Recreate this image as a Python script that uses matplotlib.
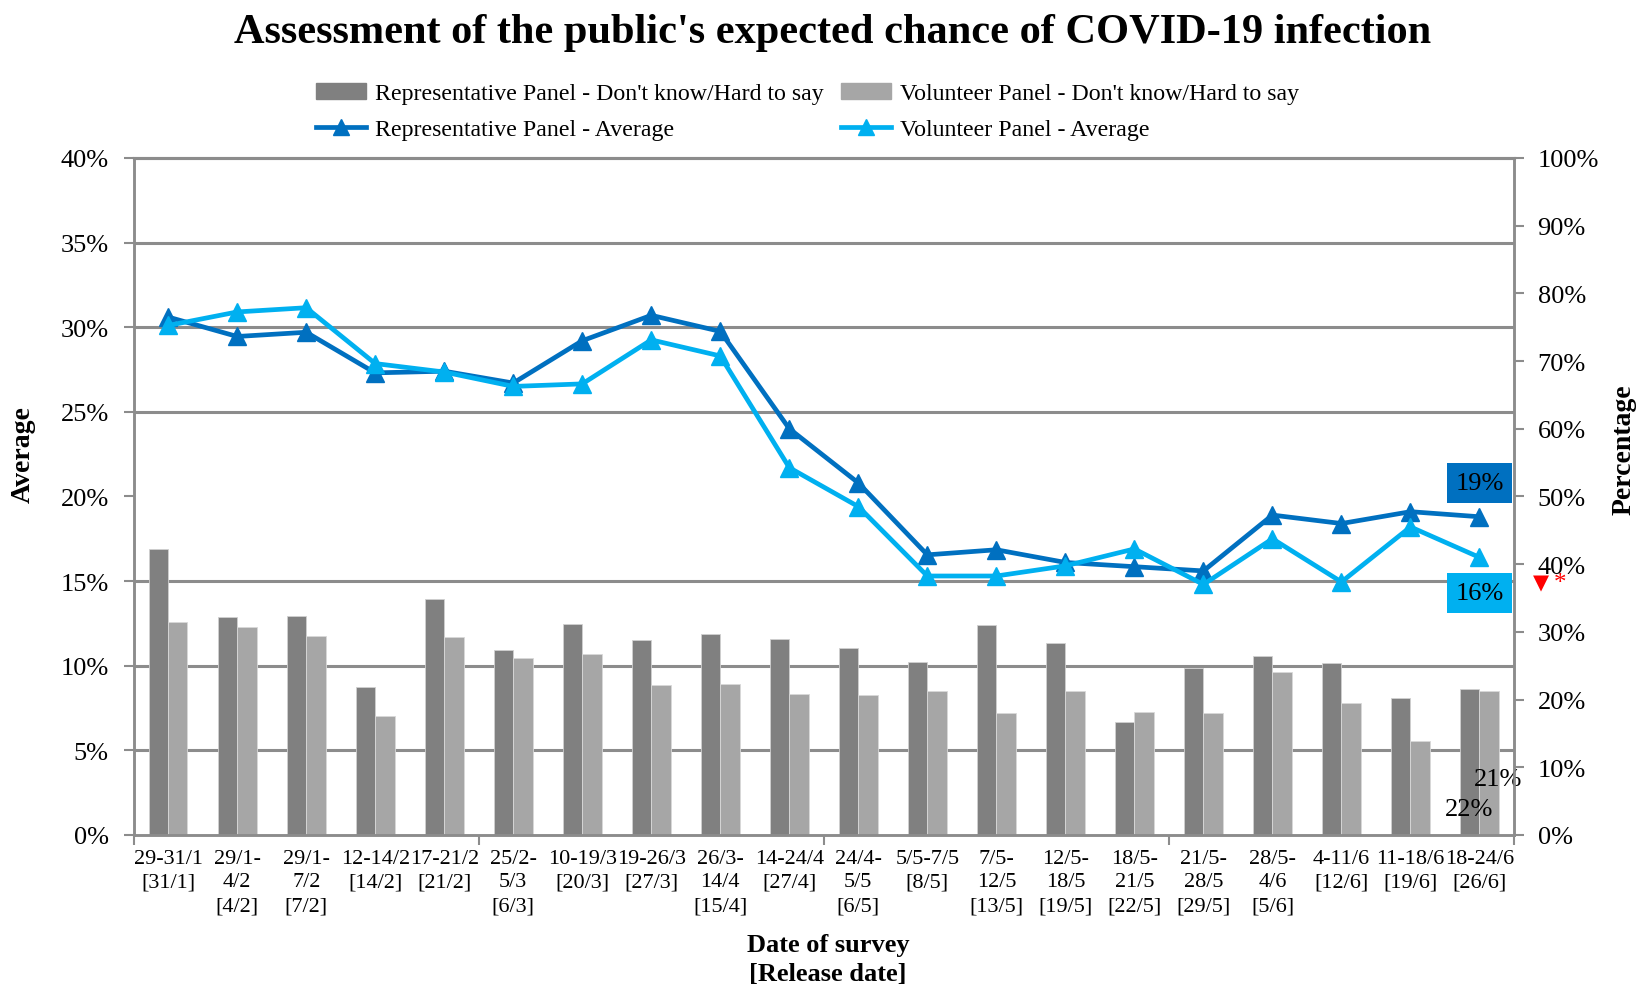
import matplotlib
matplotlib.use("Agg")
import matplotlib.pyplot as plt
import numpy as np
from matplotlib.lines import Line2D
from matplotlib.patches import Patch

plt.rcParams['font.family'] = ['Liberation Serif', 'DejaVu Serif']

categories = ["29-31/1\n[31/1]", "29/1-\n4/2\n[4/2]", "29/1-\n7/2\n[7/2]", "12-14/2\n[14/2]",
              "17-21/2\n[21/2]", "25/2-\n5/3\n[6/3]", "10-19/3\n[20/3]", "19-26/3\n[27/3]",
              "26/3-\n14/4\n[15/4]", "14-24/4\n[27/4]", "24/4-\n5/5\n[6/5]", "5/5-7/5\n[8/5]",
              "7/5-\n12/5\n[13/5]", "12/5-\n18/5\n[19/5]", "18/5-\n21/5\n[22/5]", "21/5-\n28/5\n[29/5]",
              "28/5-\n4/6\n[5/6]", "4-11/6\n[12/6]", "11-18/6\n[19/6]", "18-24/6\n[26/6]"]

rep_avg = [30.6, 29.45, 29.7, 27.3, 27.4, 26.7, 29.2, 30.7, 29.75, 24.0,
           20.8, 16.55, 16.85, 16.1, 15.85, 15.6, 18.9, 18.4, 19.1, 18.8]
vol_avg = [30.1, 30.9, 31.15, 27.85, 27.35, 26.5, 26.65, 29.25, 28.3, 21.7,
           19.4, 15.3, 15.3, 15.9, 16.9, 14.8, 17.5, 14.95, 18.2, 16.4]

rep_dk = [42.3, 32.2, 32.3, 21.9, 34.8, 27.3, 31.2, 28.8, 29.7, 29.0,
          27.6, 25.6, 31.0, 28.4, 16.7, 24.6, 26.5, 25.4, 20.2, 21.6]
vol_dk = [31.5, 30.7, 29.4, 17.6, 29.2, 26.1, 26.7, 22.1, 22.3, 20.75,
          20.65, 21.3, 18.0, 21.3, 18.2, 18.0, 24.1, 19.5, 13.9, 21.3]

left_ticks = [0, 5, 10, 15, 20, 25, 30, 35, 40]
right_ticks = [0, 10, 20, 30, 40, 50, 60, 70, 80, 90, 100]

C_REP = '#0070C0'
C_VOL = '#00B0F0'
C_DK1 = '#808080'
C_DK2 = '#A6A6A6'
C_GRID = '#8C8C8C'

fig = plt.figure(figsize=(16.38, 9.87), dpi=100)
ax2 = fig.add_axes([0.0816, 0.153, 0.8427, 0.686])
ax = ax2.twinx()
ax.set_zorder(ax2.get_zorder() + 1)
ax.patch.set_visible(False)

x = np.arange(len(categories))
bw = 0.28
ax2.bar(x - bw / 2, rep_dk, width=bw, color=C_DK1, edgecolor='#D0D0D0', linewidth=0.6, zorder=2)
ax2.bar(x + bw / 2, vol_dk, width=bw, color=C_DK2, edgecolor='#D9D9D9', linewidth=0.6, zorder=2)
ax2.set_ylim(0, 100)
ax2.set_xlim(-0.5, len(categories) - 0.5)

ax2.set_yticks([t * 2.5 for t in left_ticks], minor=True)
ax2.grid(which='minor', axis='y', color=C_GRID, linewidth=2.2, zorder=0)
ax2.set_axisbelow(True)
ax2.tick_params(axis='y', which='minor', length=0)

ax.plot(x, rep_avg, color=C_REP, lw=3.4, marker='^', ms=13, zorder=3)
ax.plot(x, vol_avg, color=C_VOL, lw=3.4, marker='^', ms=13, zorder=4)
ax.set_ylim(0, 40)

ax.yaxis.tick_left()
ax.yaxis.set_label_position('left')
ax2.yaxis.tick_right()
ax2.yaxis.set_label_position('right')

ax.set_yticks(left_ticks)
ax.set_yticklabels([f"{t}%" for t in left_ticks], fontsize=19)
ax2.set_yticks(right_ticks)
ax2.set_yticklabels([f"{t}%" for t in right_ticks], fontsize=19)
ax.tick_params(axis='y', which='major', length=7, width=1.5, color=C_GRID, pad=11)
ax2.tick_params(axis='y', which='major', length=7, width=1.5, color=C_GRID, pad=10)

ax2.set_xticks(x)
ax2.set_xticklabels(categories, fontsize=16, linespacing=1.33)
ax2.tick_params(axis='x', which='major', length=0, pad=10)
ax2.set_xticks([-0.5, 4.5, 9.5, 14.5, 19.5], minor=True)
ax2.tick_params(axis='x', which='minor', length=7, width=1.5, color=C_GRID)

for a in (ax, ax2):
    for s in ['left', 'right', 'bottom']:
        a.spines[s].set_color(C_GRID)
        a.spines[s].set_linewidth(1.8)
    a.spines['top'].set_color(C_GRID)
    a.spines['top'].set_linewidth(2.2)

ax.set_ylabel("Average", fontsize=20, fontweight='bold')
ax.yaxis.set_label_coords(-0.071, 0.563)
ax2.set_ylabel("Percentage", fontsize=20, fontweight='bold')
ax2.yaxis.set_label_coords(1.071, 0.571)
ax2.set_xlabel("Date of survey\n[Release date]", fontsize=19, fontweight='bold',
               linespacing=1.35)
ax2.xaxis.set_label_coords(0.503, -0.145)

last = len(categories) - 1
ax.text(last, rep_avg[last] + 2.0, f"{rep_avg[last]:.0f}%", ha='center', va='center', fontsize=19,
        bbox=dict(boxstyle='square,pad=0.33', fc=C_REP, ec='none'), zorder=6)
ax.text(last, vol_avg[last] - 2.1, f"{vol_avg[last]:.0f}%", ha='center', va='center', fontsize=19,
        bbox=dict(boxstyle='square,pad=0.33', fc=C_VOL, ec='none'), zorder=6)
ax2.text(last + 0.27, 8.3, f"{vol_dk[last]:.0f}%", ha='center', va='center', fontsize=19, zorder=6)
ax2.text(last - 0.15, 3.9, f"{rep_dk[last]:.0f}%", ha='center', va='center', fontsize=19, zorder=6)

ax.text(1.0197, 0.373, "\u25BC", transform=ax.transAxes, color='#FF0000', fontsize=15,
        ha='center', va='center', family=['DejaVu Sans'], clip_on=False)
ax.text(1.033, 0.372, "*", transform=ax.transAxes, color='#FF0000', fontsize=18,
        ha='center', va='center', clip_on=False)

fig.suptitle("Assessment of the public's expected chance of COVID-19 infection",
             x=0.508, y=0.986, fontsize=30.5, fontweight='bold', va='top')

handles = [Patch(color=C_DK1),
           Line2D([], [], color=C_REP, lw=3.4, marker='^', ms=11),
           Patch(color=C_DK2),
           Line2D([], [], color=C_VOL, lw=3.4, marker='^', ms=11)]
labels = ["Representative Panel - Don't know/Hard to say", "Representative Panel - Average",
          "Volunteer Panel - Don't know/Hard to say", "Volunteer Panel - Average"]
fig.legend(handles, labels, loc='center', bbox_to_anchor=(0.493, 0.886), ncol=2, frameon=False,
           fontsize=17.2, handlelength=2.1, handleheight=0.6, handletextpad=0.35,
           columnspacing=0.75, labelspacing=0.6)

fig.savefig("out.png", dpi=100)
